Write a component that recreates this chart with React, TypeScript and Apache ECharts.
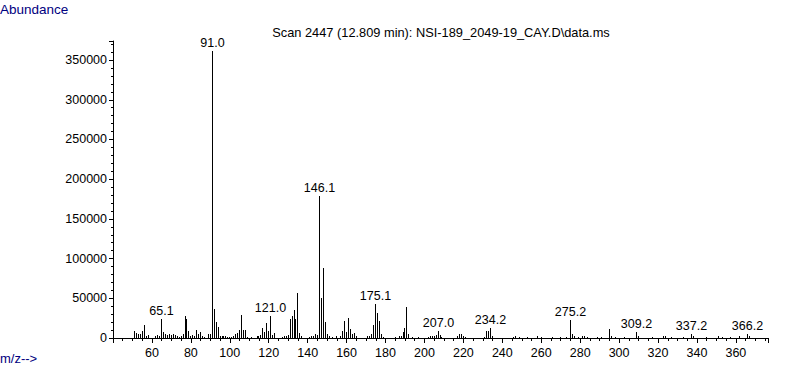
import React, { useEffect, useRef } from "react";
import * as echarts from "echarts";

// m/z values and abundances
const mzValues = [
  51, 52, 53, 54, 55, 56, 57, 58, 62, 63, 64, 65, 66, 67, 68, 69, 70, 71, 72, 73, 74, 75, 76, 77, 78, 79, 80,
  81, 82, 83, 84, 85, 86, 87, 89, 90, 91, 92, 93, 94, 95, 96, 97, 98, 99, 100, 101, 102, 103, 104, 105, 106,
  107, 108, 109, 111, 114, 115, 116, 117, 118, 119, 120, 121, 122, 123, 127, 128, 129, 130, 131, 132, 133,
  134, 135, 136, 137, 141, 142, 143, 144, 145, 146, 147, 148, 149, 150, 151, 153, 155, 157, 158, 159, 160,
  161, 162, 163, 164, 165, 171, 172, 173, 174, 175, 176, 177, 178, 179, 185, 187, 188, 189, 190, 191, 192,
  194, 197, 202, 203, 204, 205, 206, 207, 208, 209, 217, 218, 219, 220, 221, 231, 232, 233, 234, 235, 246,
  247, 249, 253, 258, 260, 266, 270, 273, 275, 276, 277, 279, 281, 282, 284, 289, 291, 295, 296, 298, 303,
  309, 310, 317, 323, 324, 327, 333, 337, 338, 345, 351, 353, 357, 362, 366, 367,
];
const abundances = [
  8400, 6700, 4600, 4600, 9200, 17000, 3000, 4000, 2000, 3500, 2000, 24500, 7500, 5000, 4000, 4500, 4000,
  5500, 4000, 2500, 1500, 2000, 4500, 28000, 24000, 9000, 2500, 4000, 2000, 10000, 5500, 8000, 2000, 1500,
  5000, 5000, 361000, 36000, 20000, 14000, 3000, 2000, 3000, 2000, 1500, 1500, 1000, 3000, 5000, 6000, 10500,
  29000, 10000, 10000, 1500, 1000, 2000, 2500, 3500, 12500, 7500, 18500, 8400, 27700, 4000, 6000, 1500, 2000,
  2500, 4000, 24000, 28000, 35000, 24000, 56500, 6300, 2000, 1500, 2000, 3000, 4500, 3500, 179000, 51000,
  88000, 20000, 4500, 2000, 1500, 2000, 3000, 9000, 21500, 8000, 25000, 11500, 5000, 6000, 2500, 2000, 2500,
  5500, 16500, 43000, 31500, 21000, 4500, 1500, 1500, 2000, 2000, 7000, 13000, 38500, 5000, 1500, 1000, 1500,
  2000, 2000, 3000, 4000, 8500, 3500, 1500, 3000, 5000, 5000, 2500, 1500, 1500, 9000, 9000, 12500, 2500,
  1500, 2000, 1500, 1500, 2000, 1500, 1500, 1000, 1500, 23000, 5500, 2500, 1500, 2500, 2500, 1500, 1500,
  1500, 11000, 3000, 1500, 1500, 7500, 2500, 1500, 2000, 2500, 1500, 1500, 4500, 2000, 1500, 2000, 1500,
  1500, 2000, 4500, 2000,
];
const labeledMz = [65, 91, 121, 146, 175, 207, 234, 275, 309, 337, 366];
const labeledText = ["65.1", "91.0", "121.0", "146.1", "175.1", "207.0", "234.2", "275.2", "309.2", "337.2", "366.2"];

const titleText = "Scan 2447 (12.809 min): NSI-189_2049-19_CAY.D\\data.ms";
const yAxisName = "Abundance";
const xAxisName = "m/z-->";

const FONT = "'Liberation Sans', Arial, sans-serif";

export default function App() {
  const ref = useRef<HTMLDivElement>(null);
  useEffect(() => {
    if (!ref.current) return;
    const chart = echarts.init(ref.current, undefined, { renderer: "svg" });
    const data = mzValues.map((m, i) => [m, abundances[i]]);
    chart.setOption({
      animation: false,
      backgroundColor: "#ffffff",
      textStyle: { fontFamily: FONT },
      grid: { left: 113, right: 19, top: 41, bottom: 29, containLabel: false },
      xAxis: {
        type: "value",
        min: 40,
        max: 376.5,
        interval: 20,
        axisLine: { show: true, lineStyle: { color: "#000", width: 1 } },
        axisTick: { show: true, length: 5, lineStyle: { color: "#000" } },
        minorTick: { show: true, splitNumber: 4, length: 3, lineStyle: { color: "#000" } },
        splitLine: { show: false },
        axisLabel: {
          showMinLabel: false,
          showMaxLabel: false,
          color: "#000",
          fontSize: 12.5,
          fontFamily: FONT,
          margin: 8,
        },
      },
      yAxis: {
        type: "value",
        min: 0,
        max: 374000,
        interval: 50000,
        axisLine: { show: true, lineStyle: { color: "#000", width: 1 } },
        axisTick: { show: true, length: 4, lineStyle: { color: "#000" } },
        minorTick: { show: true, splitNumber: 5, length: 2, lineStyle: { color: "#000" } },
        splitLine: { show: false },
        axisLabel: {
          showMaxLabel: false,
          color: "#000",
          fontSize: 12.5,
          fontFamily: FONT,
          margin: 6,
          formatter: (v: number) => String(v),
        },
      },
      series: [
        {
          type: "custom",
          data,
          encode: { x: 0, y: 1 },
          renderItem: (params: any, api: any) => {
            const m = api.value(0);
            const v = api.value(1);
            const base = api.coord([m, 0]);
            const top = api.coord([m, v]);
            const px = Math.floor(base[0]);
            const yTop = Math.round(top[1]);
            const yBase = Math.round(base[1]);
            const li = labeledMz.indexOf(m);
            const el: any = {
              type: "rect",
              shape: { x: px, y: yTop, width: 1, height: Math.max(yBase - yTop, 1) },
              style: { fill: "#000" },
            };
            if (li >= 0) {
              el.textContent = {
                style: {
                  text: labeledText[li],
                  fill: "#000",
                  font: `12.5px ${FONT}`,
                },
              };
              el.textConfig = { position: "top", distance: 2 };
            }
            return el;
          },
          emphasis: { disabled: true },
        },
      ],
      graphic: [
        {
          type: "text",
          left: 0,
          top: 2,
          style: { text: yAxisName, fill: "#000080", font: `13.5px ${FONT}` },
        },
        {
          type: "text",
          left: 0,
          top: 352,
          style: { text: xAxisName, fill: "#000080", font: `13px ${FONT}` },
        },
        {
          type: "text",
          x: 441,
          y: 32,
          style: {
            text: titleText,
            fill: "#000",
            font: `12.8px ${FONT}`,
            textAlign: "center",
            textVerticalAlign: "middle",
          },
        },
      ],
    });
    return () => chart.dispose();
  }, []);
  return (
    <div
      ref={ref}
      style={{ position: "fixed", left: 0, top: 0, width: 787, height: 367, background: "#fff" }}
    />
  );
}
